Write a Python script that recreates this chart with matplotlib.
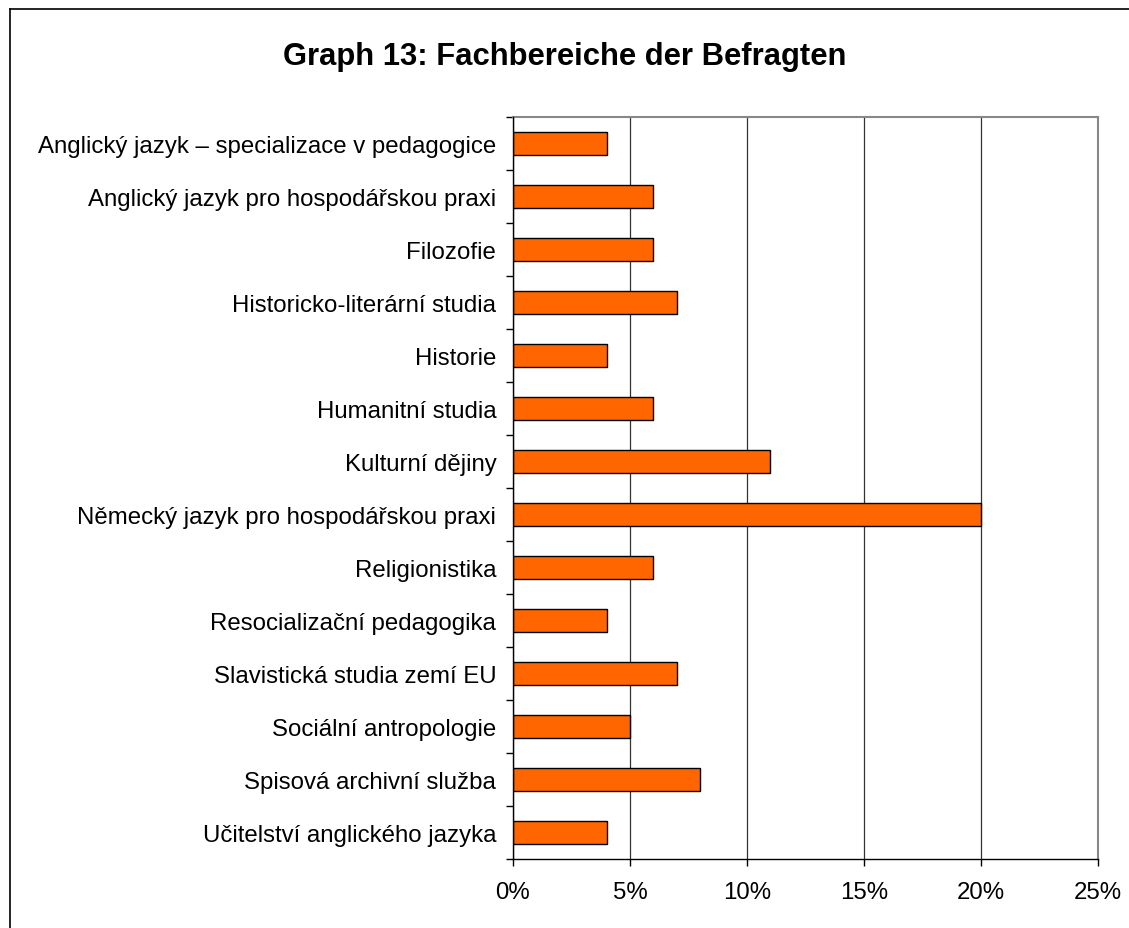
import matplotlib
matplotlib.use("Agg")
import matplotlib.pyplot as plt
from matplotlib.lines import Line2D
from matplotlib.ticker import FuncFormatter

plt.rcParams['font.family'] = ['Liberation Sans', 'DejaVu Sans']

title = "Graph 13: Fachbereiche der Befragten"
categories = [
    "Anglický jazyk – specializace v pedagogice",
    "Anglický jazyk pro hospodářskou praxi",
    "Filozofie",
    "Historicko-literární studia",
    "Historie",
    "Humanitní studia",
    "Kulturní dějiny",
    "Německý jazyk pro hospodářskou praxi",
    "Religionistika",
    "Resocializační pedagogika",
    "Slavistická studia zemí EU",
    "Sociální antropologie",
    "Spisová archivní služba",
    "Učitelství anglického jazyka",
]
values = [4, 6, 6, 7, 4, 6, 11, 20, 6, 4, 7, 5, 8, 4]
x_ticks = [0, 5, 10, 15, 20, 25]

W, H = 1129, 929
fig = plt.figure(figsize=(W / 100, H / 100), dpi=100)
ax = fig.add_axes([513 / W, 1 - 860 / H, (1098 - 513) / W, (860 - 118) / H])

n = len(categories)
ypos = list(range(n))
ax.barh(ypos, values, height=0.42, color="#FF6600", edgecolor="black", linewidth=1.0, zorder=3)
ax.set_ylim(n - 0.5, -0.5)
ax.set_xlim(0, 25)
ax.set_yticks(ypos)
ax.set_yticklabels(categories, fontsize=17.3)
ax.set_yticks([i - 0.5 for i in range(n + 1)], minor=True)
ax.tick_params(axis='y', which='major', length=0, pad=12)
ax.tick_params(axis='y', which='minor', length=5, width=1, color='black')
ax.set_xticks(x_ticks)
ax.xaxis.set_major_formatter(FuncFormatter(lambda v, p: f"{int(v)}%"))
ax.tick_params(axis='x', which='major', length=5, width=1, color='black', labelsize=17.3, pad=11)

ax.grid(axis='x', color='#333333', linewidth=0.9, zorder=0)
for s in ['top', 'right']:
    ax.spines[s].set_color('#888888')
    ax.spines[s].set_linewidth(1.5)
for s in ['left', 'bottom']:
    ax.spines[s].set_color('black')
    ax.spines[s].set_linewidth(1.0)
    ax.spines[s].set_zorder(4)

fig.text(565 / W, 1 - 57 / H, title, ha='center', va='center', fontsize=22.3, fontweight='bold')

# outer frame (cropped on right and bottom)
fig.add_artist(Line2D([10 / W, 10 / W], [0, 1 - 10 / H], color='black', linewidth=1.2, transform=fig.transFigure))
fig.add_artist(Line2D([10 / W, 1], [1 - 10 / H, 1 - 10 / H], color='black', linewidth=1.2, transform=fig.transFigure))

fig.savefig("out.png", dpi=100, facecolor='white')
